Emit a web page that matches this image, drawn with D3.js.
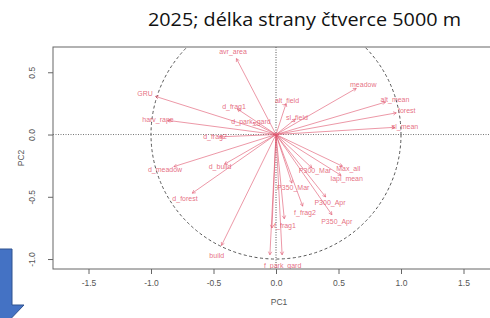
<!DOCTYPE html>
<html>
<head>
<meta charset="utf-8">
<script src="https://cdn.jsdelivr.net/npm/d3@7"></script>
<style>
  body { margin: 0; background: #fff; }
  svg { display: block; }
</style>
</head>
<body>
<div id="plot"></div>
<script>
var W = 490, H = 318;

// variable names and their loadings on PC1 / PC2 (label positions)
var varNames = ["avr_area", "GRU", "harv_rape", "d_frag1", "d_park_gard", "d_frag2",
  "alt_field", "sl_field", "meadow", "alt_mean", "forest", "sl_mean",
  "Max_all", "lapl_mean", "P300_Mar", "P350_Mar", "P300_Apr", "f_frag2",
  "P350_Apr", "f_frag1", "", "", "f_park_gard",
  "d_meadow", "d_build", "d_forest", "build"];
var pc1 = [-0.344, -1.048, -0.944, -0.336, -0.20, -0.488,
  0.088, 0.168, 0.698, 0.952, 1.046, 1.032,
  0.578, 0.566, 0.312, 0.138, 0.432, 0.232,
  0.486, 0.072, -0.035, -0.053, 0.053,
  -0.888, -0.448, -0.728, -0.474];
var pc2 = [0.663, 0.333, 0.124, 0.223, 0.105, -0.02,
  0.271, 0.135, 0.403, 0.283, 0.189, 0.063,
  -0.277, -0.357, -0.291, -0.424, -0.545, -0.625,
  -0.700, -0.735, -0.816, -1.05, -1.05,
  -0.280, -0.259, -0.512, -0.968];

var xTicks = [-1.5, -1.0, -0.5, 0.0, 0.5, 1.0, 1.5];
var yTicks = [-1.0, -0.5, 0.0, 0.5];
var title = "2025; délka strany čtverce 5000 m";

var arrowShrink = 0.92;
var red = "#DF536B";

var svg = d3.select("#plot").append("svg")
  .attr("width", W).attr("height", H);

svg.append("text")
  .attr("x", 148).attr("y", 26)
  .attr("textLength", 313).attr("lengthAdjust", "spacingAndGlyphs")
  .style("font-family", "'Open Sans', sans-serif")
  .style("font-size", "18px")
  .style("fill", "#111")
  .text(title);

var margin = {left: 53, top: 47, bottom: 269, right: 499};

var x = d3.scaleLinear().domain([-1.784, 1.784]).range([margin.left, margin.right]);
var y = d3.scaleLinear().domain([-1.08, 0.703]).range([margin.bottom, margin.top]);

svg.append("defs").append("clipPath").attr("id", "clip")
  .append("rect")
  .attr("x", margin.left).attr("y", margin.top)
  .attr("width", margin.right - margin.left).attr("height", margin.bottom - margin.top);

var plot = svg.append("g").attr("clip-path", "url(#clip)");

// dotted zero lines
plot.append("line")
  .attr("x1", margin.left).attr("x2", margin.right)
  .attr("y1", y(0)).attr("y2", y(0))
  .attr("stroke", "#777").attr("stroke-width", 1)
  .attr("stroke-dasharray", "1,1.5");
plot.append("line")
  .attr("x1", x(0)).attr("x2", x(0))
  .attr("y1", margin.top).attr("y2", margin.bottom)
  .attr("stroke", "#555").attr("stroke-width", 1)
  .attr("stroke-dasharray", "1,1.5");

// unit circle
plot.append("ellipse")
  .attr("cx", x(0)).attr("cy", y(0))
  .attr("rx", x(1) - x(0)).attr("ry", y(0) - y(1))
  .attr("fill", "none")
  .attr("stroke", "#444").attr("stroke-width", 0.9)
  .attr("stroke-dasharray", "3,2.5");

var data = varNames.map(function(n, i) { return {name: n, x: pc1[i], y: pc2[i]}; });

// arrows
var arrows = plot.append("g");
data.forEach(function(d) {
  var x0 = x(0), y0 = y(0);
  var x1 = x(d.x * arrowShrink), y1 = y(d.y * arrowShrink);
  arrows.append("line")
    .attr("x1", x0).attr("y1", y0).attr("x2", x1).attr("y2", y1)
    .attr("stroke", red).attr("stroke-opacity", 0.75).attr("stroke-width", 0.8);
  var a = Math.atan2(y1 - y0, x1 - x0), len = 3.5;
  [-0.5, 0.5].forEach(function(da) {
    arrows.append("line")
      .attr("x1", x1).attr("y1", y1)
      .attr("x2", x1 - len * Math.cos(a + da))
      .attr("y2", y1 - len * Math.sin(a + da))
      .attr("stroke", red).attr("stroke-opacity", 0.75).attr("stroke-width", 0.8);
  });
});

// labels
plot.append("g").selectAll("text")
  .data(data.filter(function(d) { return d.name !== ""; }))
  .enter().append("text")
  .attr("x", function(d) { return x(d.x); })
  .attr("y", function(d) { return y(d.y); })
  .attr("dy", "0.35em")
  .attr("text-anchor", "middle")
  .style("font-family", "'Liberation Sans', Arial, sans-serif")
  .style("font-size", "7px")
  .style("fill", red)
  .style("fill-opacity", 0.85)
  .text(function(d) { return d.name; });

// box
svg.append("rect")
  .attr("x", margin.left).attr("y", margin.top)
  .attr("width", margin.right - margin.left).attr("height", margin.bottom - margin.top)
  .attr("fill", "none").attr("stroke", "#666").attr("stroke-width", 1);

var fmt = function(d) { return d.toFixed(1); };

var xAxis = svg.append("g")
  .attr("transform", "translate(0," + margin.bottom + ")")
  .call(d3.axisBottom(x).tickValues(xTicks).tickFormat(fmt).tickSize(5).tickPadding(6));
var yAxis = svg.append("g")
  .attr("transform", "translate(" + margin.left + ",0)")
  .call(d3.axisLeft(y).tickValues(yTicks).tickFormat(fmt).tickSize(5).tickPadding(6));

[xAxis, yAxis].forEach(function(g) {
  g.select(".domain").remove();
  g.selectAll("line").attr("stroke", "#666");
  g.selectAll("text")
    .style("font-family", "'Liberation Sans', Arial, sans-serif")
    .style("font-size", "8.5px")
    .style("fill", "#555");
});

// R-style vertical tick labels on the y axis
yAxis.selectAll(".tick text")
  .attr("x", 0).attr("y", 0).attr("dy", "0.35em")
  .attr("transform", "translate(-21,0) rotate(-90)")
  .style("text-anchor", "middle");

svg.append("text")
  .attr("x", 279).attr("y", 305)
  .attr("text-anchor", "middle")
  .style("font-family", "'Liberation Sans', Arial, sans-serif")
  .style("font-size", "8.5px").style("fill", "#555")
  .text("PC1");

svg.append("text")
  .attr("transform", "translate(24,158) rotate(-90)")
  .attr("text-anchor", "middle")
  .style("font-family", "'Liberation Sans', Arial, sans-serif")
  .style("font-size", "8.5px").style("fill", "#555")
  .text("PC2");

// blue block arrow in the corner (slide decoration)
svg.append("path")
  .attr("d", "M-12,249 L12,249 L12,305 L24,305 L0,330 L-24,305 L-12,305 Z")
  .attr("fill", "#4472C4")
  .attr("stroke", "#2F528F").attr("stroke-width", 1);
</script>
</body>
</html>
